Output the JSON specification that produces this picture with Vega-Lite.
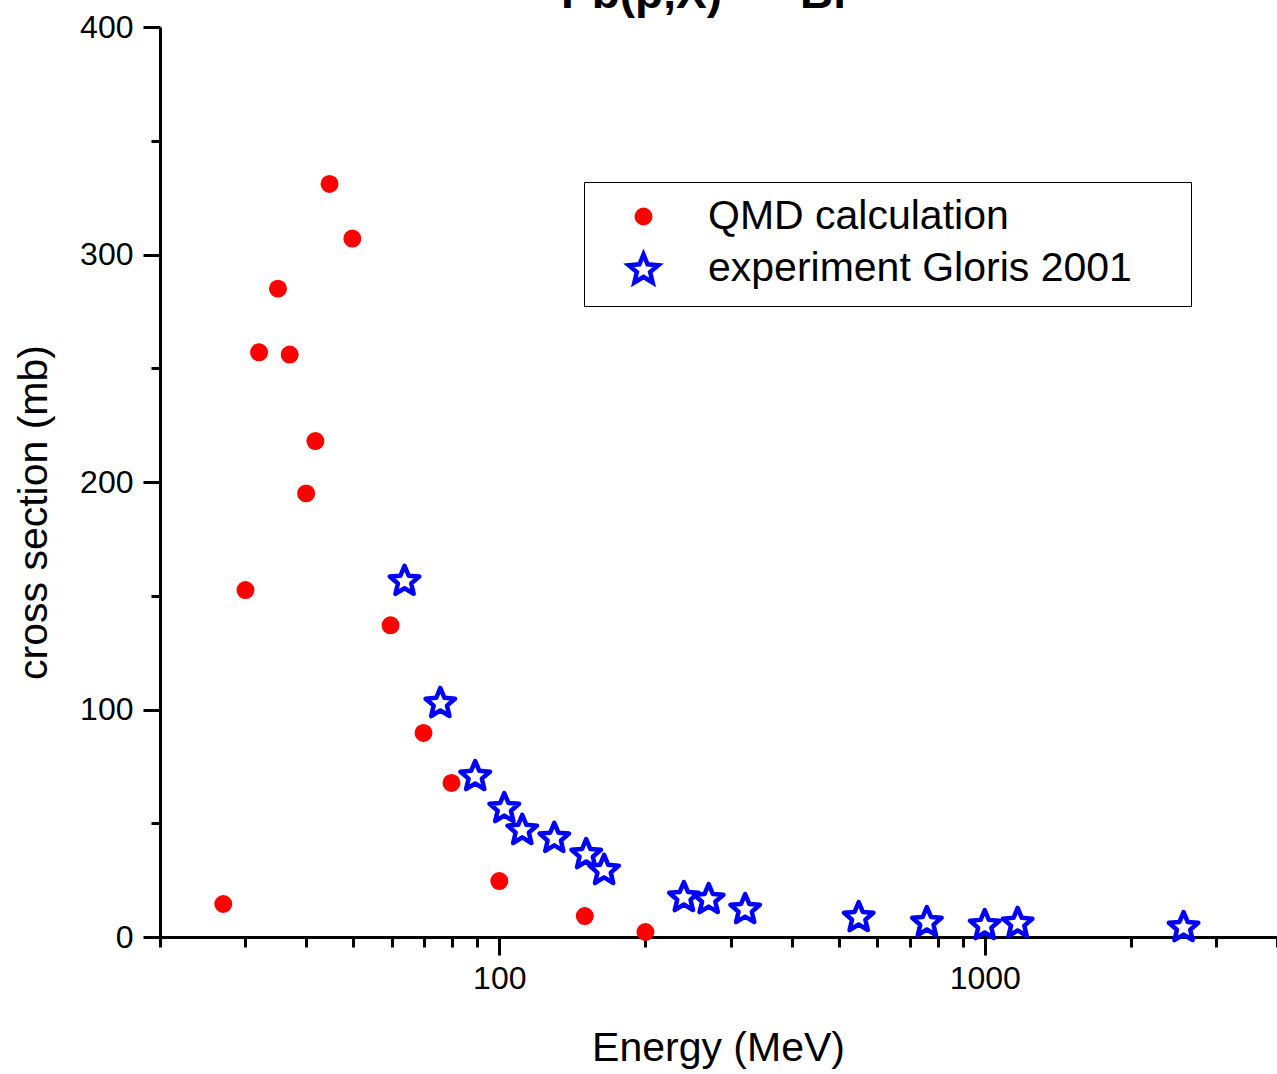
{
  "$schema": "https://vega.github.io/schema/vega-lite/v6.json",
  "autosize": "none",
  "width": 1117,
  "height": 910,
  "padding": {"left": 160, "top": 27, "right": 0, "bottom": 137},
  "background": "white",
  "title": {
    "text": "Pb(p,X)\u00a0 ²⁰⁶Bi",
    "anchor": "start",
    "frame": "group",
    "dx": 401,
    "dy": 43,
    "offset": 0,
    "font": "Liberation Sans",
    "fontSize": 46,
    "fontWeight": "bold",
    "baseline": "alphabetic",
    "color": "black"
  },
  "config": {
    "view": {"stroke": null},
    "font": "Liberation Sans",
    "axis": {
      "domainColor": "black",
      "domainWidth": 3,
      "tickColor": "black",
      "tickWidth": 3,
      "grid": false,
      "labelFont": "Liberation Sans",
      "labelColor": "black",
      "labelFontSize": 32,
      "titleFont": "Liberation Sans",
      "titleColor": "black",
      "titleFontSize": 41,
      "titleFontWeight": "normal",
      "labelOverlap": false,
      "labelFlush": false
    }
  },
  "data": {
    "values": [
      {"E": 27, "cs": 14.5, "series": "QMD calculation"},
      {"E": 30, "cs": 152.5, "series": "QMD calculation"},
      {"E": 32, "cs": 257, "series": "QMD calculation"},
      {"E": 35, "cs": 285, "series": "QMD calculation"},
      {"E": 37, "cs": 256, "series": "QMD calculation"},
      {"E": 40, "cs": 195, "series": "QMD calculation"},
      {"E": 41.8, "cs": 218, "series": "QMD calculation"},
      {"E": 44.7, "cs": 331, "series": "QMD calculation"},
      {"E": 49.8, "cs": 307, "series": "QMD calculation"},
      {"E": 59.7, "cs": 137, "series": "QMD calculation"},
      {"E": 69.8, "cs": 89.7, "series": "QMD calculation"},
      {"E": 79.7, "cs": 67.7, "series": "QMD calculation"},
      {"E": 100, "cs": 24.6, "series": "QMD calculation"},
      {"E": 150, "cs": 9.2, "series": "QMD calculation"},
      {"E": 200, "cs": 2.2, "series": "QMD calculation"},
      {"E": 63.8, "cs": 157, "series": "experiment Gloris 2001"},
      {"E": 75.6, "cs": 103.3, "series": "experiment Gloris 2001"},
      {"E": 89.2, "cs": 71.2, "series": "experiment Gloris 2001"},
      {"E": 102.4, "cs": 57.1, "series": "experiment Gloris 2001"},
      {"E": 111.5, "cs": 47.5, "series": "experiment Gloris 2001"},
      {"E": 129.8, "cs": 44, "series": "experiment Gloris 2001"},
      {"E": 151, "cs": 36.9, "series": "experiment Gloris 2001"},
      {"E": 164.4, "cs": 29.9, "series": "experiment Gloris 2001"},
      {"E": 240, "cs": 18, "series": "experiment Gloris 2001"},
      {"E": 270, "cs": 17.1, "series": "experiment Gloris 2001"},
      {"E": 321, "cs": 12.7, "series": "experiment Gloris 2001"},
      {"E": 550, "cs": 9.2, "series": "experiment Gloris 2001"},
      {"E": 760, "cs": 7, "series": "experiment Gloris 2001"},
      {"E": 1000, "cs": 5.7, "series": "experiment Gloris 2001"},
      {"E": 1169, "cs": 6.6, "series": "experiment Gloris 2001"},
      {"E": 2568, "cs": 4.8, "series": "experiment Gloris 2001"}
    ]
  },
  "mark": {"type": "point", "filled": true, "opacity": 1, "size": 182, "strokeWidth": 4.5, "strokeJoin": "round"},
  "encoding": {
    "x": {
      "field": "E",
      "type": "quantitative",
      "scale": {"type": "log", "domain": [20, 4000], "nice": false},
      "axis": {
        "title": "Energy (MeV)",
        "values": [20, 30, 40, 50, 60, 70, 80, 90, 100, 200, 300, 400, 500, 600, 700, 800, 900, 1000, 2000, 3000, 4000],
        "format": ".0f",
        "labelExpr": "datum.value == 100 || datum.value == 1000 ? datum.label : ''",
        "tickSize": {"condition": {"test": "datum.value == 100 || datum.value == 1000", "value": 18}, "value": 10},
        "labelPadding": 8,
        "titleY": 123,
        "titleBaseline": "alphabetic",
        "titleX": 558
      }
    },
    "y": {
      "field": "cs",
      "type": "quantitative",
      "scale": {"domain": [0, 400], "nice": false},
      "axis": {
        "title": "cross section (mb)",
        "values": [0, 50, 100, 150, 200, 250, 300, 350, 400],
        "labelExpr": "datum.value % 100 == 0 ? datum.label : ''",
        "tickSize": {"condition": {"test": "datum.value % 100 == 0", "value": 17}, "value": 9},
        "labelPadding": 10,
        "titleAngle": -90,
        "titleX": -126,
        "titleY": 485,
        "titleAlign": "center",
        "titleBaseline": "middle"
      }
    },
    "shape": {
      "field": "series",
      "type": "nominal",
      "scale": {
        "domain": ["QMD calculation", "experiment Gloris 2001"],
        "range": ["circle", "M0,-2.08L0.608,-0.617L2.187,-0.491L0.984,0.54L1.352,2.081L0,1.255L-1.352,2.081L-0.984,0.54L-2.187,-0.491L-0.608,-0.617Z"]
      },
      "legend": {
        "title": null,
        "orient": "none",
        "legendX": 424,
        "legendY": 155,
        "strokeColor": "black",
        "fillColor": "white",
        "padding": 14,
        "rowPadding": 8,
        "symbolSize": 182,
        "symbolStrokeWidth": 4.5,
        "symbolOffset": 25,
        "labelFont": "Liberation Sans",
        "labelFontSize": 41,
        "labelColor": "black",
        "labelOffset": 44,
        "labelLimit": 1000,
        "labelExpr": "datum.label + '\u00a0\u200a\u2800'"
      }
    },
    "fill": {
      "field": "series",
      "type": "nominal",
      "scale": {"domain": ["QMD calculation", "experiment Gloris 2001"], "range": ["#ff0000", "#ffffff"]},
      "legend": null
    },
    "stroke": {
      "field": "series",
      "type": "nominal",
      "scale": {"domain": ["QMD calculation", "experiment Gloris 2001"], "range": ["#ff0000", "#0000ff"]},
      "legend": null
    }
  }
}
